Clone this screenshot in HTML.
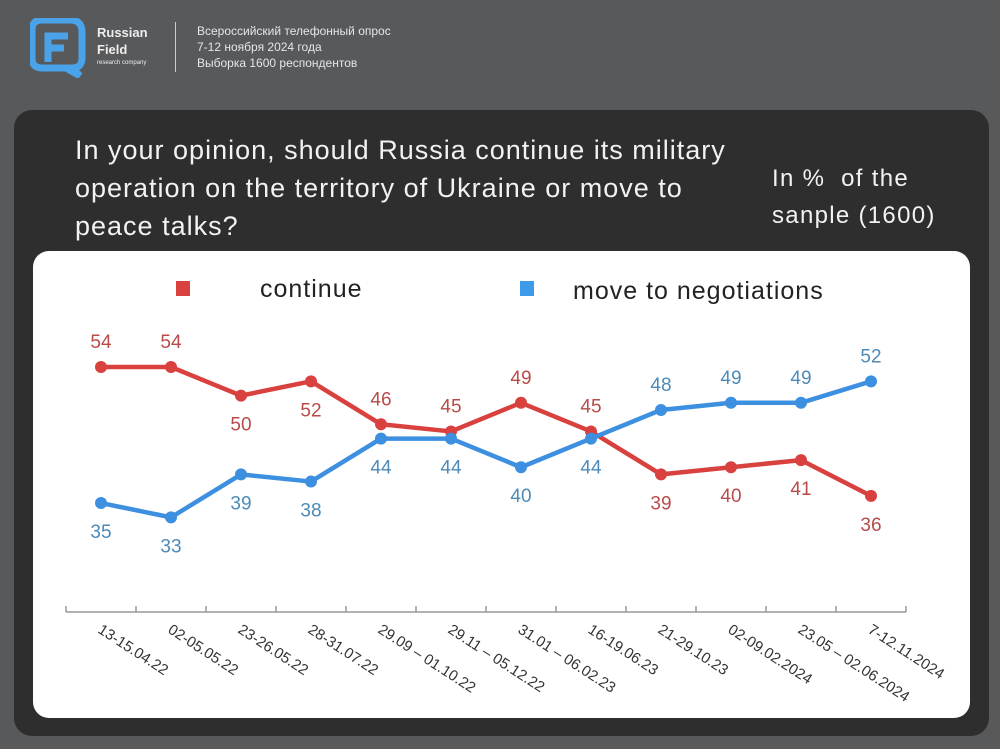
<!DOCTYPE html>
<html><head><meta charset="utf-8"><style>
body{margin:0;width:1000px;height:749px;overflow:hidden;background:#58595b;font-family:"Liberation Sans","DejaVu Sans",sans-serif;position:relative}
.abs{position:absolute}
</style></head><body>
<div class="abs" style="left:0;top:0;width:1000px;height:110px">
<svg class="abs" style="left:30px;top:18px" width="56" height="60" viewBox="0 0 56 60">
<path d="M10 2 H40 Q52 2 52 14 V40 Q52 50 42 50 L50 58 L36 50 H12 Q2 50 2 40 V12 Q2 2 12 2 Z" fill="none" stroke="#4aa3e8" stroke-width="7"/>
<path d="M18 44 V18 H38 M18 30 H34" fill="none" stroke="#4aa3e8" stroke-width="7"/>
</svg>
<div class="abs" style="left:97px;top:24px;color:#eee;font-weight:bold;font-size:13px;line-height:17px">Russian<br>Field<div style="font-size:6px;font-weight:normal;line-height:10px">research company</div></div>
<div class="abs" style="left:175px;top:22px;width:1px;height:50px;background:#ccc"></div>
<div class="abs" style="left:197px;top:23px;color:#e6e6e6;font-size:12px;line-height:16px;white-space:nowrap">Всероссийский телефонный опрос<br>7-12 ноября 2024 года<br>Выборка 1600 респондентов</div>
</div>
<div class="abs" style="left:14px;top:110px;width:975px;height:626px;background:#2e2e2f;border-radius:18px"></div>
<div class="abs" style="left:75px;top:131px;color:#f2f2f2;font-size:27px;line-height:38px;letter-spacing:1px;white-space:nowrap">In your opinion, should Russia continue its military<br>operation on the territory of Ukraine or move to<br>peace talks?</div>
<div class="abs" style="left:772px;top:160px;color:#f2f2f2;font-size:24px;line-height:37px;letter-spacing:1.3px;white-space:nowrap">In %&nbsp; of the<br>sanple (1600)</div>
<div class="abs" style="left:33px;top:251px;width:937px;height:467px;background:#fff;border-radius:16px"></div>
<svg class="abs" style="left:0;top:0" width="1000" height="749" id="chart">
<rect x="176" y="281" width="14" height="15" fill="#d9413f"/>
<text x="260" y="297" font-size="25" letter-spacing="1" fill="#222">continue</text>
<rect x="520" y="281" width="14" height="15" fill="#3d9be9"/>
<text x="573" y="299" font-size="25" letter-spacing="1" fill="#222">move to negotiations</text>
<g id="g"></g>
</svg>
<script>
const categories=["13-15.04.22","02-05.05.22","23-26.05.22","28-31.07.22","29.09 – 01.10.22","29.11 – 05.12.22","31.01 – 06.02.23","16-19.06.23","21-29.10.23","02-09.02.2024","23.05 – 02.06.2024","7-12.11.2024"];
const continueVals=[54,54,50,52,46,45,49,45,39,40,41,36];
const negotiateVals=[35,33,39,38,44,44,40,44,48,49,49,52];
const continueAbove=[1,1,0,0,1,1,1,1,0,0,0,0];
const negotiateAbove=[0,0,0,0,0,0,0,0,1,1,1,1];
const NS="http://www.w3.org/2000/svg";
const g=document.getElementById('g');
const x0=66,step=70;
function xs(i){return x0+step/2+i*step;}
function ys(v){return 367-(v-54)*7.16;}
function mk(t,a){const e=document.createElementNS(NS,t);for(const k in a)e.setAttribute(k,a[k]);g.appendChild(e);return e;}
const ax=mk('line',{x1:x0,x2:x0+step*categories.length,y1:612,y2:612,stroke:'#999','stroke-width':1.5});


for(let i=0;i<=categories.length;i++){const t=mk('line',{x1:x0+i*step,x2:x0+i*step,y1:606,y2:612,stroke:'#999','stroke-width':1.5});

}
categories.forEach((c,i)=>{const x=xs(i)-4,y=632;const t=mk('text',{x:x,y:y,'font-size':15,fill:'#333',transform:`rotate(33 ${x} ${y})`});t.textContent=c;

});
function series(vals,above,color,lab,name){
const p=mk('polyline',{points:vals.map((v,i)=>xs(i)+','+ys(v)).join(' '),fill:'none',stroke:color,'stroke-width':4.5,'stroke-linejoin':'round'});


vals.forEach((v,i)=>{const c=mk('circle',{cx:xs(i),cy:ys(v),r:6,fill:color});


const t=mk('text',{x:xs(i),y:ys(v)+(above[i]?-19:35),'font-size':19,fill:lab,'text-anchor':'middle'});t.textContent=v;

});}
series(continueVals,continueAbove,'#d9413f','#b84b4a','continue');
series(negotiateVals,negotiateAbove,'#3d8fe0','#4d8ab8','negotiations');
</script>
</body></html>
